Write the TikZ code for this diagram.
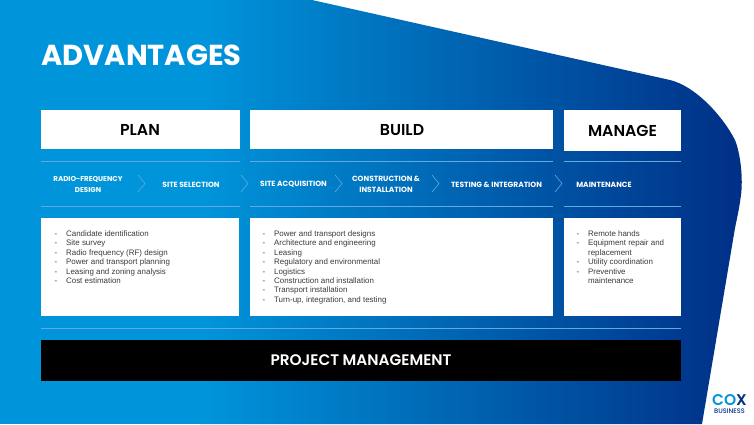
\documentclass[tikz,border=0pt]{standalone}
\usepackage{fontspec}
\setmainfont{Liberation Sans}
\newfontfamily\headf{Poppins}[UprightFont=* SemiBold,BoldFont=* Bold]
\newfontfamily\boldf{Poppins}[UprightFont=* Bold,BoldFont=* Bold]
\newfontfamily\medf{Poppins}[UprightFont=* Medium,BoldFont=* Bold]
\definecolor{coxlight}{HTML}{0095DB}
\definecolor{coxdark}{HTML}{002F86}
\definecolor{rulecol}{HTML}{62A9E0}
\definecolor{bodytext}{HTML}{3A3A3A}
\newcommand{\itm}[1]{\makebox[11.4pt][l]{-}#1}
\newcommand{\cnt}[1]{\hspace*{11.4pt}#1}
\tikzset{
  x=1pt,y=-1pt,
  whitebox/.style={fill=white,draw=none},
  headbox/.style={inner sep=0pt,font=\headf\fontsize{15.8}{15.8}\selectfont,text=black},
  stagelabel/.style={inner sep=0pt,align=center,text=white,font=\boldf\fontsize{7.5}{11.5}\selectfont},
  sepline/.style={draw=rulecol,line width=1pt},
  chevron/.style={draw=rulecol,line width=0.6pt},
  bullets/.style={inner sep=0pt,anchor=north west,align=left,text=bodytext,font=\fontsize{7.95}{9.37}\selectfont},
}
\begin{document}
\begin{tikzpicture}
\useasboundingbox (0,0) rectangle (754,424);
\fill[white] (0,0) rectangle (754,424);
\begin{scope}
  \clip (0,0) -- (312,0) -- (670,80) .. controls (695,86) and (722,115) .. (735,140) .. controls (741,155) and (743,180) .. (741,195) .. controls (739,210) and (737,218) .. (735,228) -- (702,424) -- (0,424) -- cycle;
  \fill[coxlight] (0,0) rectangle (200,424);
  \shade[left color=coxlight,right color=coxdark,shading=axis,shading angle=90] (199.5,0) rectangle (742,424);
  \fill[coxdark] (741.5,0) rectangle (754,424);
\end{scope}
\node[inner sep=0pt,text=white,font=\boldf\fontsize{28.9}{28.9}\selectfont] (title) at (141.5,55) {ADVANTAGES};
% header boxes
\fill[whitebox] (41,110) rectangle (240,149);
\fill[whitebox] (250,110) rectangle (553,149);
\fill[whitebox] (564,110) rectangle (681,151);
\node[headbox] (plan) at (140,130) {PLAN};
\node[headbox] (build) at (402,130) {BUILD};
\node[headbox] (manage) at (622.5,130.5) {MANAGE};
% rules
\foreach \yy in {161,206}{
  \draw[sepline] (41,\yy) -- (240,\yy);
  \draw[sepline] (250,\yy) -- (553,\yy);
  \draw[sepline] (564,\yy) -- (681,\yy);
}
% stages
\node[stagelabel,font=\boldf\fontsize{7.1}{11.5}\selectfont] (rf) at (88,184.5) {RADIO-FREQUENCY\\DESIGN};
\node[stagelabel] (ss) at (191,184.5) {SITE SELECTION};
\node[stagelabel] (sa) at (293.5,184.5) {SITE ACQUISITION};
\node[stagelabel] (ci) at (386,184.5) {CONSTRUCTION \&\\INSTALLATION};
\node[stagelabel] (ti) at (496.5,184.5) {TESTING \& INTEGRATION};
\node[stagelabel] (mt) at (604,184.5) {MAINTENANCE};
\foreach \xx in {138,241,335,432,555}{
  \draw[chevron] (\xx,175) -- (\xx+7,183.5) -- (\xx,192);
}
% lists
\fill[whitebox] (41,218) rectangle (239,316);
\fill[whitebox] (250,218) rectangle (553,316);
\fill[whitebox] (564,218) rectangle (681,316);
\node[bullets] (l1) at (54.5,230.6) {\itm{Candidate identification}\\\itm{Site survey}\\\itm{Radio frequency (RF) design}\\\itm{Power and transport planning}\\\itm{Leasing and zoning analysis}\\\itm{Cost estimation}};
\node[bullets] (l2) at (262.5,230.6) {\itm{Power and transport designs}\\\itm{Architecture and engineering}\\\itm{Leasing}\\\itm{Regulatory and environmental}\\\itm{Logistics}\\\itm{Construction and installation}\\\itm{Transport installation}\\\itm{Turn-up, integration, and testing}};
\node[bullets] (l3) at (576.5,230.6) {\itm{Remote hands}\\\itm{Equipment repair and}\\\cnt{replacement}\\\itm{Utility coordination}\\\itm{Preventive}\\\cnt{maintenance}};
% project management
\draw[sepline] (41,328) -- (681,328);
\fill[black] (41,340) rectangle (681,381);
\node[inner sep=0pt,text=white,font=\headf\fontsize{15.3}{15.3}\selectfont] (pm) at (361,360.5) {PROJECT MANAGEMENT};
% logo
\node[inner sep=0pt,text height=10.5pt,text depth=0pt,font=\headf\fontsize{15.5}{15.5}\selectfont] (cox) at (729.5,400.5) {\textcolor{coxlight}{CO}\textcolor{coxdark}{X}};
\node[inner sep=0pt,text=coxdark,text height=4.8pt,text depth=0pt,font=\medf\fontsize{6.6}{6.6}\selectfont] (biz) at (729.5,411.5) {BUSINESS};
\end{tikzpicture}
\end{document}
